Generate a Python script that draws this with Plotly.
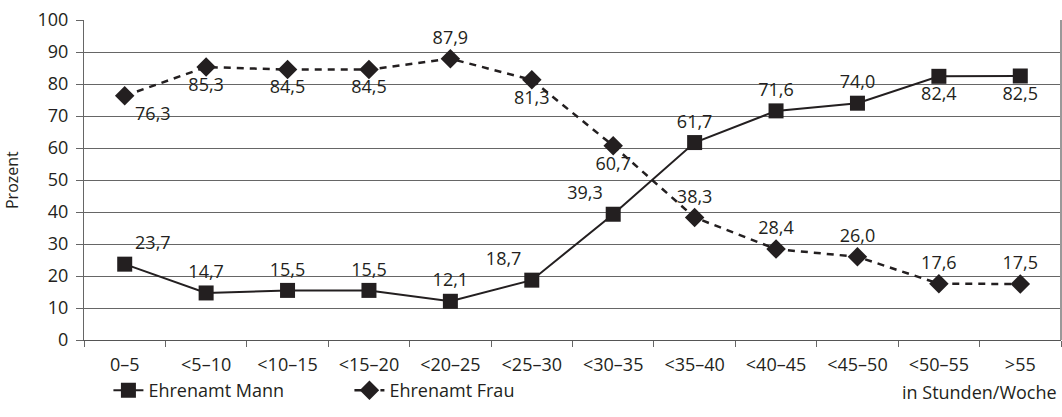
import plotly.graph_objects as go

categories = ["0–5", "<5–10", "<10–15", "<15–20", "<20–25", "<25–30",
              "<30–35", "<35–40", "<40–45", "<45–50", "<50–55", ">55"]
mann = [23.7, 14.7, 15.5, 15.5, 12.1, 18.7, 39.3, 61.7, 71.6, 74.0, 82.4, 82.5]
frau = [76.3, 85.3, 84.5, 84.5, 87.9, 81.3, 60.7, 38.3, 28.4, 26.0, 17.6, 17.5]
y_ticks = [0, 10, 20, 30, 40, 50, 60, 70, 80, 90, 100]

mann_pos = ["top right", "top center", "top center", "top center", "top center", "top left",
            "top left", "top center", "top center", "top center", "bottom center", "bottom center"]
frau_pos = ["bottom right", "bottom center", "bottom center", "bottom center", "top center",
            "bottom center", "bottom center", "top center", "top center", "top center",
            "top center", "top center"]

INK = "#231f20"
FONT = "Open Sans"
FS = 18

fig = go.Figure()
fig.add_trace(go.Scatter(
    x=categories, y=mann, name="Ehrenamt Mann", mode="lines+markers+text",
    line=dict(color=INK, width=2),
    marker=dict(symbol="square", size=15, color=INK),
    texttemplate="%{y:.1f}", textposition=mann_pos,
    textfont=dict(family=FONT, size=FS, color=INK),
))
fig.add_trace(go.Scatter(
    x=categories, y=frau, name="Ehrenamt Frau", mode="lines+markers+text",
    line=dict(color=INK, width=2.5, dash="7px,6px"),
    marker=dict(symbol="diamond", size=15, color=INK),
    texttemplate="%{y:.1f}", textposition=frau_pos,
    textfont=dict(family=FONT, size=FS, color=INK),
))

fig.update_layout(
    width=1062, height=417,
    margin=dict(l=84, r=1, t=20, b=77, autoexpand=False),
    paper_bgcolor="white", plot_bgcolor="white",
    separators=",.",
    font=dict(family=FONT, size=FS, color=INK),
    showlegend=True,
    legend=dict(orientation="h", x=0.025, xanchor="left", y=-0.1, yanchor="top",
                font=dict(family=FONT, size=FS, color=INK),
                entrywidth=196, entrywidthmode="pixels",
                bgcolor="rgba(0,0,0,0)"),
    annotations=[
        dict(text="in Stunden/Woche", xref="paper", yref="paper",
             x=1.0, y=-0.12, xanchor="right", yanchor="top", xshift=-2,
             showarrow=False, font=dict(family=FONT, size=FS, color=INK)),
        dict(text="Prozent", xref="paper", yref="paper", x=0, y=0.5,
             xanchor="center", yanchor="middle", xshift=-72, textangle=-90,
             showarrow=False, font=dict(family=FONT, size=16, color=INK)),
    ],
)
fig.update_xaxes(
    type="category", range=[-0.5, len(categories) - 0.5],
    tickson="boundaries", ticks="outside", ticklen=6,
    tickcolor="#666", showgrid=False, showline=True, linecolor="#555",
    linewidth=1, mirror=False, automargin=False, ticklabelstandoff=8,
    tickfont=dict(family=FONT, size=FS, color=INK),
)
fig.update_yaxes(
    range=[0, 100], tickvals=y_ticks, ticks="outside", ticklen=7, tickcolor="#666",
    showgrid=True, gridcolor="#666", gridwidth=1, showline=True, linecolor="#666",
    linewidth=1, zeroline=False, automargin=False, ticklabelstandoff=4,
    tickfont=dict(family=FONT, size=FS, color=INK),
)
# right border
fig.add_shape(type="line", xref="paper", yref="paper", x0=1, x1=1, y0=0, y1=1,
              line=dict(color="#999", width=2))

fig.write_html("out.html", config={"displayModeBar": False},
               post_script="document.body.style.margin='0';document.body.style.overflow='hidden';")
